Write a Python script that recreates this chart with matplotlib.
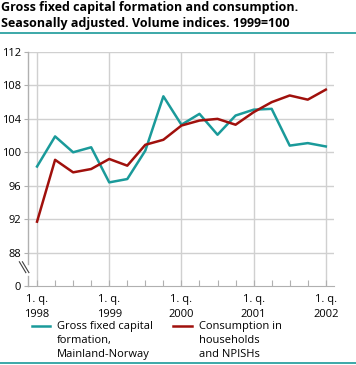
import numpy as np
import matplotlib.pyplot as plt
from matplotlib.lines import Line2D

# 数据（季度，1998年1季度 - 2002年1季度）
quarters = ['1. q.\n1998', '', '', '', '1. q.\n1999', '', '', '', '1. q.\n2000', '', '', '',
            '1. q.\n2001', '', '', '', '1. q.\n2002']
investment = [98.3, 101.9, 100.0, 100.6, 96.4, 96.8, 100.2, 106.7, 103.3, 104.6,
              102.1, 104.4, 105.1, 105.2, 100.8, 101.1, 100.7]
consumption = [91.7, 99.1, 97.6, 98.0, 99.2, 98.4, 100.9, 101.5, 103.2, 103.8,
               104.0, 103.3, 104.8, 106.0, 106.8, 106.3, 107.5]
y_ticks = [84, 88, 92, 96, 100, 104, 108, 112]
y_labels = ['0', '88', '92', '96', '100', '104', '108', '112']

teal = '#1a9a9a'
red = '#a0100c'
grid_col = '#d0d0d0'

plt.rcParams['font.family'] = ['Open Sans', 'DejaVu Sans']

fig = plt.figure(figsize=(3.56, 3.65), dpi=100)
ax = fig.add_axes([0.0787, 0.2164, 0.8593, 0.6411])

x = np.arange(len(investment))
ax.plot(x, investment, color=teal, lw=1.8, zorder=3)
ax.plot(x, consumption, color=red, lw=1.8, zorder=3)

ax.set_xlim(-0.5, 16.45)
ax.set_ylim(84, 112)
ax.set_yticks(y_ticks)
ax.set_yticklabels(y_labels, fontsize=8)
ax.set_xticks(x)
ax.set_xticklabels(quarters, fontsize=8, linespacing=1.45)

# 网格
for yy in y_ticks[1:]:
    ax.axhline(yy, color=grid_col, lw=1, zorder=1)
for xx in x[::4]:
    ax.axvline(xx, color=grid_col, lw=1, zorder=1)

for s in ['top', 'right']:
    ax.spines[s].set_visible(False)
ax.spines['left'].set_visible(False)
ax.spines['bottom'].set_color('#b0b0b0')
ax.tick_params(axis='x', direction='in', length=4, color='#b0b0b0', pad=6)
ax.tick_params(axis='y', direction='out', length=3, color='#b0b0b0', pad=2)

# 左轴（带断点）
ax.plot([-0.5, -0.5], [86.6, 112], color='#b0b0b0', lw=1, clip_on=False, zorder=2)
ax.plot([-0.5, -0.5], [84, 85.2], color='#b0b0b0', lw=1, clip_on=False, zorder=2)
for dx in [0, 0.17]:
    ax.plot([-0.98 + dx, -0.62 + dx], [86.9, 85.6],
            color='#404040', lw=0.8, clip_on=False, zorder=4)

# 标题
fig.text(0.003, 0.997, 'Gross fixed capital formation and consumption.\n'
         'Seasonally adjusted. Volume indices. 1999=100',
         fontsize=9, fontweight='bold', va='top', ha='left', linespacing=1.3)
fig.add_artist(Line2D([0, 1], [1 - 33 / 365] * 2, color=teal, lw=1.2))
fig.add_artist(Line2D([0, 1], [1 - 363 / 365] * 2, color=teal, lw=1.2))

# 图例
fig.add_artist(Line2D([32 / 356, 50 / 356], [1 - 326 / 365] * 2, color=teal, lw=1.8))
fig.text(57 / 356, 1 - 321 / 365, 'Gross fixed capital\nformation,\nMainland-Norway',
         fontsize=8, va='top', ha='left', linespacing=1.4)
fig.add_artist(Line2D([173 / 356, 192 / 356], [1 - 326 / 365] * 2, color=red, lw=1.8))
fig.text(199 / 356, 1 - 321 / 365, 'Consumption in\nhouseholds\nand NPISHs',
         fontsize=8, va='top', ha='left', linespacing=1.4)

plt.savefig('out.png', dpi=100)
